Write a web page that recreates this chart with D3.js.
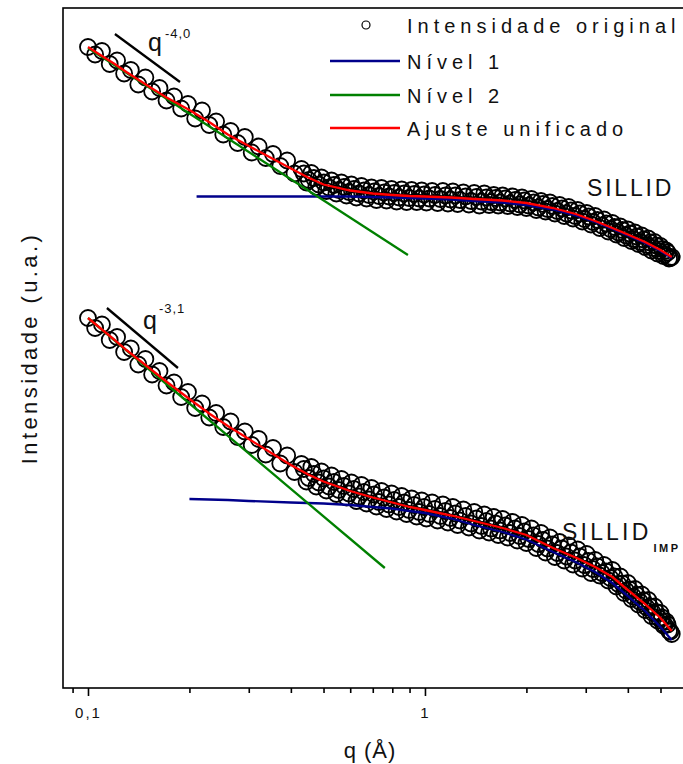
<!DOCTYPE html>
<html><head><meta charset="utf-8">
<script src="https://cdn.jsdelivr.net/npm/d3@7"></script>
<style>html,body{margin:0;padding:0;background:#fff;overflow:hidden}</style>
</head><body><svg id="c" width="683" height="764"></svg>
<script>
// ---------- axes ----------
const xDomain = [0.0843, 6.1];           // q (Å)
const yDomain = [0, 13.6];               // log intensity (a.u.)
const qTicksMajor = [0.1, 1];
const tickLabels = ["0,1", "1"];
const qTicksMinor = [0.09, 0.2, 0.3, 0.4, 0.5, 0.6, 0.7, 0.8, 0.9, 2, 3, 4, 5, 6];

// ---------- measured data (open circles) ----------
const qData = [0.100,0.105,0.110,0.116,0.122,0.128,0.134,0.141,0.148,0.155,0.163,0.171,0.180,0.189,0.198,0.208,0.218,0.229,0.240,0.252,0.265,0.278,0.292,0.306,0.321,0.337,0.354,0.372,0.390,0.410,0.430,
0.445,0.460,0.476,0.493,0.510,0.528,0.546,0.565,0.585,0.605,0.626,0.648,0.671,0.694,0.718,0.743,0.769,0.796,0.824,0.853,0.882,0.913,0.945,0.978,1.01,1.05,1.09,1.13,1.17,1.21,1.25,1.30,1.35,1.40,1.45,1.50,
1.55,1.60,1.65,1.70,1.76,1.82,1.88,1.94,2.00,2.07,2.14,2.21,2.28,2.35,2.43,2.51,2.59,2.67,2.75,2.84,2.93,3.02,3.11,3.20,3.30,3.40,3.50,3.60,3.70,3.80,3.90,4.00,4.10,4.20,4.30,4.40,4.50,4.60,4.70,4.80,4.90,5.00,5.10,5.20,5.30,5.40];
const iSillid = [12.82,12.67,12.74,12.48,12.55,12.29,12.36,12.07,12.21,11.93,12.00,11.75,11.83,11.59,11.68,11.39,11.55,11.26,11.33,11.07,11.14,10.90,11.02,10.71,10.83,10.60,10.68,10.44,10.55,10.29,10.38,
10.11,10.30,10.02,10.21,9.94,10.15,9.89,10.11,9.85,10.07,9.81,10.04,9.79,10.01,9.76,10.00,9.75,9.98,9.73,9.97,9.72,9.96,9.72,9.95,9.71,9.94,9.70,9.94,9.69,9.93,9.68,9.91,9.67,9.90,9.65,9.89,
9.66,9.86,9.65,9.85,9.64,9.83,9.62,9.81,9.60,9.78,9.56,9.74,9.53,9.71,9.49,9.66,9.44,9.62,9.39,9.56,9.33,9.50,9.27,9.44,9.20,9.37,9.13,9.30,9.07,9.23,9.00,9.17,8.94,9.11,8.88,9.05,8.82,8.99,8.75,8.92,8.69,8.84,8.64,8.75,8.59,8.62];
const iSillidImp = [7.40,7.20,7.27,6.96,7.02,6.72,6.79,6.47,6.58,6.27,6.34,6.05,6.11,5.82,5.92,5.60,5.69,5.41,5.50,5.22,5.33,5.02,5.13,4.86,4.98,4.67,4.80,4.49,4.65,4.32,4.48,
4.13,4.42,4.03,4.33,3.95,4.25,3.88,4.18,3.81,4.11,3.74,4.06,3.69,4.00,3.63,3.94,3.58,3.89,3.53,3.84,3.48,3.79,3.43,3.75,3.39,3.71,3.35,3.67,3.31,3.62,3.26,3.57,3.21,3.52,3.15,3.47,
3.11,3.42,3.06,3.38,3.01,3.32,2.95,3.26,2.90,3.19,2.80,3.10,2.71,3.01,2.62,2.92,2.55,2.85,2.47,2.77,2.39,2.68,2.30,2.56,2.25,2.46,2.15,2.36,2.03,2.23,1.90,2.10,1.78,1.98,1.67,1.87,1.56,1.76,1.44,1.63,1.35,1.50,1.25,1.33,1.14,1.08];

// second, interleaved set of measured points (dense high-q range)
const qData2 = [0.437,0.452,0.468,0.484,0.501,0.519,0.537,0.555,0.575,0.595,0.615,0.637,0.659,0.682,0.706,0.730,0.756,0.782,0.810,0.838,0.867,0.897,0.929,0.961,0.994,
1.03,1.07,1.11,1.15,1.19,1.23,1.27,1.32,1.37,1.42,1.47,1.52,1.57,1.62,1.67,1.73,1.79,1.85,1.91,1.97,
2.03,2.10,2.17,2.24,2.31,2.39,2.47,2.55,2.63,2.71,2.79,2.88,2.97,3.06,3.15,3.25,3.35,3.45,3.55,3.65,3.75,3.85,3.95,
4.05,4.15,4.25,4.35,4.45,4.55,4.65,4.75,4.85,4.95,5.05,5.15,5.25,5.35];
const iSillid2 = [10.29,10.16,10.20,10.07,10.11,10.01,10.06,9.96,10.02,9.92,9.98,9.89,9.95,9.86,9.93,9.84,9.91,9.83,9.90,9.81,9.89,9.80,9.88,9.79,9.87,
9.79,9.86,9.78,9.85,9.77,9.85,9.76,9.83,9.74,9.82,9.73,9.81,9.72,9.80,9.71,9.79,9.69,9.76,9.67,9.75,
9.65,9.71,9.61,9.68,9.58,9.64,9.54,9.59,9.49,9.55,9.44,9.49,9.38,9.43,9.32,9.36,9.25,9.29,9.18,9.22,9.11,9.16,9.05,
9.09,8.98,9.03,8.92,8.97,8.86,8.91,8.80,8.85,8.74,8.78,8.67,8.71,8.60];
const iSillidImp2 = [4.38,4.20,4.28,4.11,4.19,4.03,4.12,3.96,4.04,3.89,3.98,3.83,3.92,3.77,3.87,3.72,3.81,3.67,3.76,3.62,3.71,3.56,3.66,3.52,3.62,
3.48,3.58,3.44,3.54,3.40,3.49,3.35,3.44,3.29,3.39,3.24,3.34,3.19,3.29,3.15,3.25,3.10,3.19,3.04,3.13,
2.98,3.05,2.88,2.96,2.79,2.87,2.70,2.79,2.63,2.71,2.55,2.63,2.46,2.54,2.38,2.43,2.30,2.33,2.20,2.23,2.08,2.09,1.95,
1.97,1.83,1.86,1.72,1.75,1.61,1.63,1.50,1.52,1.39,1.41,1.26,1.27,1.13];

// ---------- unified fit (red) ----------
const qFit = [0.1,0.11,0.12,0.13,0.15,0.17,0.2,0.23,0.26,0.3,0.35,0.4,0.45,0.5,0.6,0.7,0.8,0.9,1,1.2,1.4,1.7,2,2.4,2.8,3.2,3.6,4,4.5,5,5.4];
const fitSillid = [12.82,12.64,12.48,12.32,12.05,11.82,11.56,11.31,11.07,10.84,10.60,10.39,10.21,10.07,9.95,9.89,9.86,9.84,9.83,9.81,9.78,9.75,9.70,9.60,9.48,9.34,9.20,9.07,8.92,8.76,8.62];
const fitSillidImp = [7.40,7.17,6.96,6.76,6.43,6.14,5.78,5.48,5.24,4.98,4.70,4.46,4.27,4.13,3.94,3.81,3.71,3.62,3.56,3.45,3.34,3.20,3.06,2.80,2.61,2.42,2.22,1.96,1.68,1.40,1.14];

// ---------- Nível 1 (blue) ----------
const qN1Sillid = [0.21,0.3,0.4,0.5,0.6,0.7,0.8,0.9,1,1.2,1.4,1.7,2,2.4,2.8,3.2,3.6,4,4.5,5,5.4];
const n1Sillid = [9.83,9.83,9.83,9.83,9.83,9.82,9.81,9.80,9.79,9.77,9.74,9.71,9.66,9.57,9.45,9.32,9.18,9.05,8.90,8.74,8.60];
const qN1Imp = [0.2,0.26,0.3,0.4,0.5,0.6,0.7,0.8,0.9,1,1.2,1.4,1.7,2,2.4,2.8,3.2,3.6,4,4.5,5,5.4];
const n1Imp = [3.78,3.76,3.74,3.71,3.69,3.66,3.62,3.59,3.54,3.50,3.39,3.26,3.12,2.97,2.72,2.52,2.32,2.10,1.84,1.54,1.22,0.96];

// ---------- Nível 2 (green) ----------
const qN2Sillid = [0.1, 0.89];
const n2Sillid = [12.80, 8.66];
const qN2Imp = [0.1, 0.76];
const n2Imp = [7.40, 2.40];

// ---------- power-law guides ----------
const qGuideSillid = [0.1202, 0.1875];
const iGuideSillid = [13.08, 12.12];
const qGuideImp = [0.1138, 0.1849];
const iGuideImp = [7.60, 6.40];

const legendLabels = ["Intensidade original", "Nível 1", "Nível 2", "Ajuste unificado"];
const C = {blue: "#00008b", green: "#008000", red: "#ff0000"};
const FONT = "'Liberation Sans', Arial, sans-serif";

const svg = d3.select("#c");
const x = d3.scaleLog().domain(xDomain).range([63, 689.6]);
const y = d3.scaleLinear().domain(yDomain).range([688, 8]);

// frame
svg.append("rect").attr("x", x.range()[0]).attr("y", y.range()[1])
  .attr("width", x.range()[1] - x.range()[0]).attr("height", y.range()[0] - y.range()[1])
  .attr("fill", "none").attr("stroke", "#000").attr("stroke-width", 1.6);

// x axis
const gMinor = svg.append("g").attr("transform", `translate(0,${y.range()[0]})`)
  .call(d3.axisBottom(x).tickValues(qTicksMinor).tickSize(5).tickFormat(""));
const gMajor = svg.append("g").attr("transform", `translate(0,${y.range()[0]})`)
  .call(d3.axisBottom(x).tickValues(qTicksMajor).tickSize(8).tickPadding(11)
    .tickFormat((d, i) => tickLabels[i]));
[gMinor, gMajor].forEach(g => {
  g.select(".domain").remove();
  g.selectAll(".tick line").attr("stroke", "#000").attr("stroke-width", 1.6);
});
gMajor.selectAll(".tick text").attr("font-family", FONT).attr("font-size", 15)
  .attr("letter-spacing", 2).attr("fill", "#111");

// axis titles
svg.append("text").attr("x", 370).attr("y", 758).attr("text-anchor", "middle")
  .attr("font-family", FONT).attr("font-size", 22).attr("letter-spacing", 1).attr("fill", "#111")
  .text("q (Å)");
svg.append("text").attr("transform", "translate(37,348) rotate(-90)").attr("text-anchor", "middle")
  .attr("font-family", FONT).attr("font-size", 22).attr("letter-spacing", 3.4).attr("fill", "#111")
  .text("Intensidade (u.a.)");

const line = d3.line().x(d => x(d[0])).y(d => y(d[1]));
const zip = (a, b) => a.map((v, i) => [v, b[i]]);

// markers (open circles)
[[qData, iSillid], [qData2, iSillid2], [qData, iSillidImp], [qData2, iSillidImp2]].forEach(([qs, series]) => {
  svg.append("g").selectAll("circle").data(zip(qs, series)).join("circle")
    .attr("cx", d => x(d[0])).attr("cy", d => y(d[1])).attr("r", 8)
    .attr("fill", "none").attr("stroke", "#000").attr("stroke-width", 1.8);
});

// fits
const drawLine = (qs, vs, color) => svg.append("path").datum(zip(qs, vs))
  .attr("d", line).attr("fill", "none").attr("stroke", color).attr("stroke-width", 2.3);
drawLine(qN1Sillid, n1Sillid, C.blue);
drawLine(qN1Imp, n1Imp, C.blue);
drawLine(qN2Sillid, n2Sillid, C.green);
drawLine(qN2Imp, n2Imp, C.green);
drawLine(qFit, fitSillid, C.red);
drawLine(qFit, fitSillidImp, C.red);
drawLine(qGuideSillid, iGuideSillid, "#000");
drawLine(qGuideImp, iGuideImp, "#000");

// power-law annotations
function powerLabel(qq, vv, sup, supDx, supDy) {
  const t = svg.append("text").attr("x", x(qq)).attr("y", y(vv))
    .attr("font-family", FONT).attr("fill", "#111");
  t.append("tspan").attr("font-size", 25).text("q");
  t.append("tspan").attr("font-size", 13).attr("letter-spacing", 1)
    .attr("dx", supDx).attr("dy", supDy).text(sup);
}
powerLabel(0.1507, 12.74, "-4,0", 3, -13);
powerLabel(0.1456, 7.18, "-3,1", 2, -16);

// sample labels
svg.append("text").attr("x", 587).attr("y", 196).attr("font-family", FONT)
  .attr("font-size", 23).attr("letter-spacing", 2.8).attr("fill", "#111").text("SILLID");
const t2 = svg.append("text").attr("x", 562).attr("y", 540).attr("font-family", FONT)
  .attr("fill", "#111");
t2.append("tspan").attr("font-size", 23).attr("letter-spacing", 3.2).text("SILLID");
t2.append("tspan").attr("font-size", 11).attr("font-weight", "bold").attr("letter-spacing", 2.5)
  .attr("dx", 2).attr("dy", 12).text("IMP");

// legend
const legY = [25, 61, 95, 128];
const lg = svg.append("g");
lg.append("circle").attr("cx", 366).attr("cy", legY[0]).attr("r", 4)
  .attr("fill", "#fff").attr("stroke", "#000").attr("stroke-width", 1.2);
[C.blue, C.green, C.red].forEach((c, i) => {
  lg.append("line").attr("x1", 330).attr("x2", 400).attr("y1", legY[i + 1]).attr("y2", legY[i + 1])
    .attr("stroke", c).attr("stroke-width", 2.3);
});
legendLabels.forEach((s, i) => {
  lg.append("text").attr("x", 407).attr("y", legY[i] + 8).attr("font-family", FONT)
    .attr("font-size", 20).attr("letter-spacing", 5).attr("fill", "#111").text(s);
});
</script></body></html>
